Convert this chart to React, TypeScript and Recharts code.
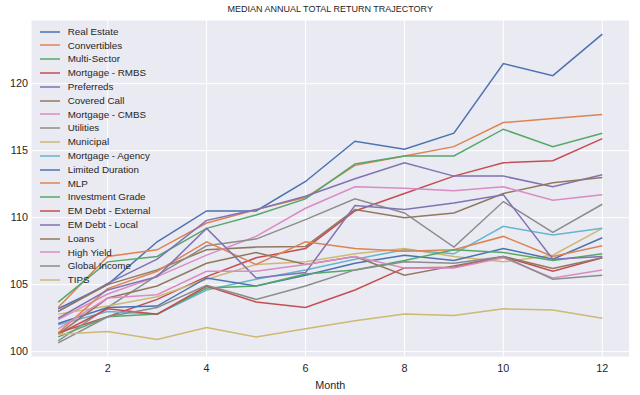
import { CartesianGrid, Line, LineChart, XAxis, YAxis } from "recharts";

const MONTHS = [1, 2, 3, 4, 5, 6, 7, 8, 9, 10, 11, 12];

const REAL_ESTATE = [103.2, 105.0, 108.2, 110.5, 110.5, 112.7, 115.7, 115.1, 116.3, 121.5, 120.6, 123.7];
const CONVERTIBLES = [103.3, 107.1, 107.6, 109.6, 110.6, 111.5, 113.9, 114.6, 115.3, 117.1, 117.4, 117.7];
const MULTI_SECTOR = [103.7, 106.7, 107.1, 109.2, 110.2, 111.4, 114.0, 114.6, 114.6, 116.6, 115.3, 116.3];
const MORTGAGE_RMBS = [101.4, 102.6, 103.9, 105.6, 107.0, 107.7, 110.5, 111.8, 113.1, 114.1, 114.25, 115.9];
const PREFERREDS = [103.0, 105.1, 106.9, 109.8, 110.6, 111.6, 112.9, 114.1, 113.1, 113.1, 112.3, 113.2];
const COVERED_CALL = [103.0, 105.0, 106.1, 107.6, 107.8, 107.85, 110.6, 110.0, 110.35, 111.8, 112.6, 113.0];
const MORTGAGE_CMBS = [102.4, 104.3, 105.6, 107.2, 108.6, 110.7, 112.3, 112.2, 112.0, 112.3, 111.3, 111.7];
const UTILITIES = [100.8, 103.3, 105.7, 107.9, 108.4, 109.85, 111.4, 110.35, 107.8, 111.2, 108.9, 111.0];
const MUNICIPAL = [102.8, 103.4, 104.1, 105.4, 106.5, 106.7, 107.3, 107.7, 107.1, 106.7, 107.2, 109.2];
const MORTGAGE_AGENCY = [102.0, 103.0, 102.8, 104.6, 105.4, 106.1, 106.9, 107.6, 107.3, 109.35, 108.7, 109.2];
const LIMITED_DURATION = [102.1, 103.3, 103.4, 105.5, 104.9, 105.7, 106.6, 107.2, 106.8, 107.7, 106.9, 108.5];
const MLP = [101.4, 104.7, 106.0, 108.2, 106.5, 108.2, 107.7, 107.5, 107.6, 108.6, 107.1, 107.9];
const INVESTMENT_GRADE = [101.1, 102.6, 102.8, 104.75, 104.9, 105.8, 106.1, 106.8, 107.6, 107.4, 106.8, 107.3];
const EM_DEBT_EXTERNAL = [101.3, 103.2, 102.8, 104.9, 103.7, 103.3, 104.6, 106.25, 106.3, 107.1, 106.0, 107.0];
const EM_DEBT_LOCAL = [102.5, 104.6, 105.6, 109.2, 105.5, 105.9, 110.9, 110.6, 111.1, 111.7, 106.9, 107.1];
const LOANS = [101.3, 104.0, 104.9, 106.6, 107.4, 106.5, 107.1, 105.7, 106.4, 107.1, 106.2, 107.0];
const HIGH_YIELD = [101.7, 104.0, 104.25, 106.0, 106.0, 106.5, 107.1, 106.25, 106.25, 107.0, 105.5, 106.1];
const GLOBAL_INCOME = [100.65, 102.6, 103.3, 104.95, 103.9, 104.9, 106.1, 106.7, 106.6, 107.1, 105.4, 105.7];
const TIPS = [101.3, 101.5, 100.9, 101.8, 101.1, 101.7, 102.3, 102.8, 102.7, 103.2, 103.1, 102.5];

const X_TICKS = [2, 4, 6, 8, 10, 12];
const Y_TICKS = [100, 105, 110, 115, 120];

// seaborn "deep"
const PALETTE = ["#4C72B0", "#DD8452", "#55A868", "#C44E52", "#8172B3", "#937860", "#DA8BC3", "#8C8C8C", "#CCB974", "#64B5CD"];

const SERIES: { name: string; values: number[] }[] = [
  { name: "Real Estate", values: REAL_ESTATE },
  { name: "Convertibles", values: CONVERTIBLES },
  { name: "Multi-Sector", values: MULTI_SECTOR },
  { name: "Mortgage - RMBS", values: MORTGAGE_RMBS },
  { name: "Preferreds", values: PREFERREDS },
  { name: "Covered Call", values: COVERED_CALL },
  { name: "Mortgage - CMBS", values: MORTGAGE_CMBS },
  { name: "Utilities", values: UTILITIES },
  { name: "Municipal", values: MUNICIPAL },
  { name: "Mortgage - Agency", values: MORTGAGE_AGENCY },
  { name: "Limited Duration", values: LIMITED_DURATION },
  { name: "MLP", values: MLP },
  { name: "Investment Grade", values: INVESTMENT_GRADE },
  { name: "EM Debt - External", values: EM_DEBT_EXTERNAL },
  { name: "EM Debt - Local", values: EM_DEBT_LOCAL },
  { name: "Loans", values: LOANS },
  { name: "High Yield", values: HIGH_YIELD },
  { name: "Global Income", values: GLOBAL_INCOME },
  { name: "TIPS", values: TIPS },
];

const data = MONTHS.map((month, i) => {
  const row: Record<string, number> = { month };
  SERIES.forEach((s) => {
    row[s.name] = s.values[i];
  });
  return row;
});

const FONT = '"Liberation Sans", Arial, sans-serif';
const TEXT = "#262626";

function LegendBox() {
  return (
    <div
      style={{
        position: "absolute",
        left: 40,
        top: 24.8,
        fontFamily: FONT,
        fontSize: 9.8,
        color: TEXT,
        pointerEvents: "none",
      }}
    >
      {SERIES.map((s, i) => (
        <div key={s.name} style={{ display: "flex", alignItems: "center", height: 13.8 }}>
          <svg width={20} height={4} style={{ marginRight: 7.7, display: "block" }}>
            <line x1={0} y1={2} x2={20} y2={2} stroke={PALETTE[i % PALETTE.length]} strokeWidth={1.5} />
          </svg>
          <span style={{ whiteSpace: "nowrap", lineHeight: "13.8px" }}>{s.name}</span>
        </div>
      ))}
    </div>
  );
}

export default function App() {
  return (
    <div style={{ position: "absolute", left: 0, top: 0, width: 640, height: 395, background: "#fff" }}>
      <div
        style={{
          position: "absolute",
          left: 31,
          width: 598.5,
          top: 4,
          textAlign: "center",
          fontFamily: FONT,
          fontSize: 9,
          color: TEXT,
        }}
      >
        MEDIAN ANNUAL TOTAL RETURN TRAJECTORY
      </div>
      <LineChart width={640} height={395} data={data} margin={{ top: 20, right: 10.5, bottom: 0, left: 0 }}>
        <CartesianGrid fill="#EAEAF2" stroke="#FFFFFF" strokeWidth={1} />
        <XAxis
          dataKey="month"
          type="number"
          domain={[0.45, 12.55]}
          ticks={X_TICKS}
          height={38}
          axisLine={false}
          tickLine={false}
          tickSize={0}
          tickMargin={7}
          tick={{ fontSize: 10.8, fill: TEXT, fontFamily: FONT }}
          label={{ value: "Month", position: "insideBottom", offset: 6, fontSize: 10.8, fill: TEXT, fontFamily: FONT }}
        />
        <YAxis
          type="number"
          domain={[99.6, 124.75]}
          ticks={Y_TICKS}
          width={31}
          axisLine={false}
          tickLine={false}
          tickSize={0}
          tickMargin={3}
          tick={{ fontSize: 10.8, fill: TEXT, fontFamily: FONT }}
        />
        {SERIES.map((s, i) => (
          <Line
            key={s.name}
            dataKey={s.name}
            stroke={PALETTE[i % PALETTE.length]}
            strokeWidth={1.5}
            dot={false}
            activeDot={false}
            type="linear"
            isAnimationActive={false}
          />
        ))}
      </LineChart>
      <LegendBox />
    </div>
  );
}
